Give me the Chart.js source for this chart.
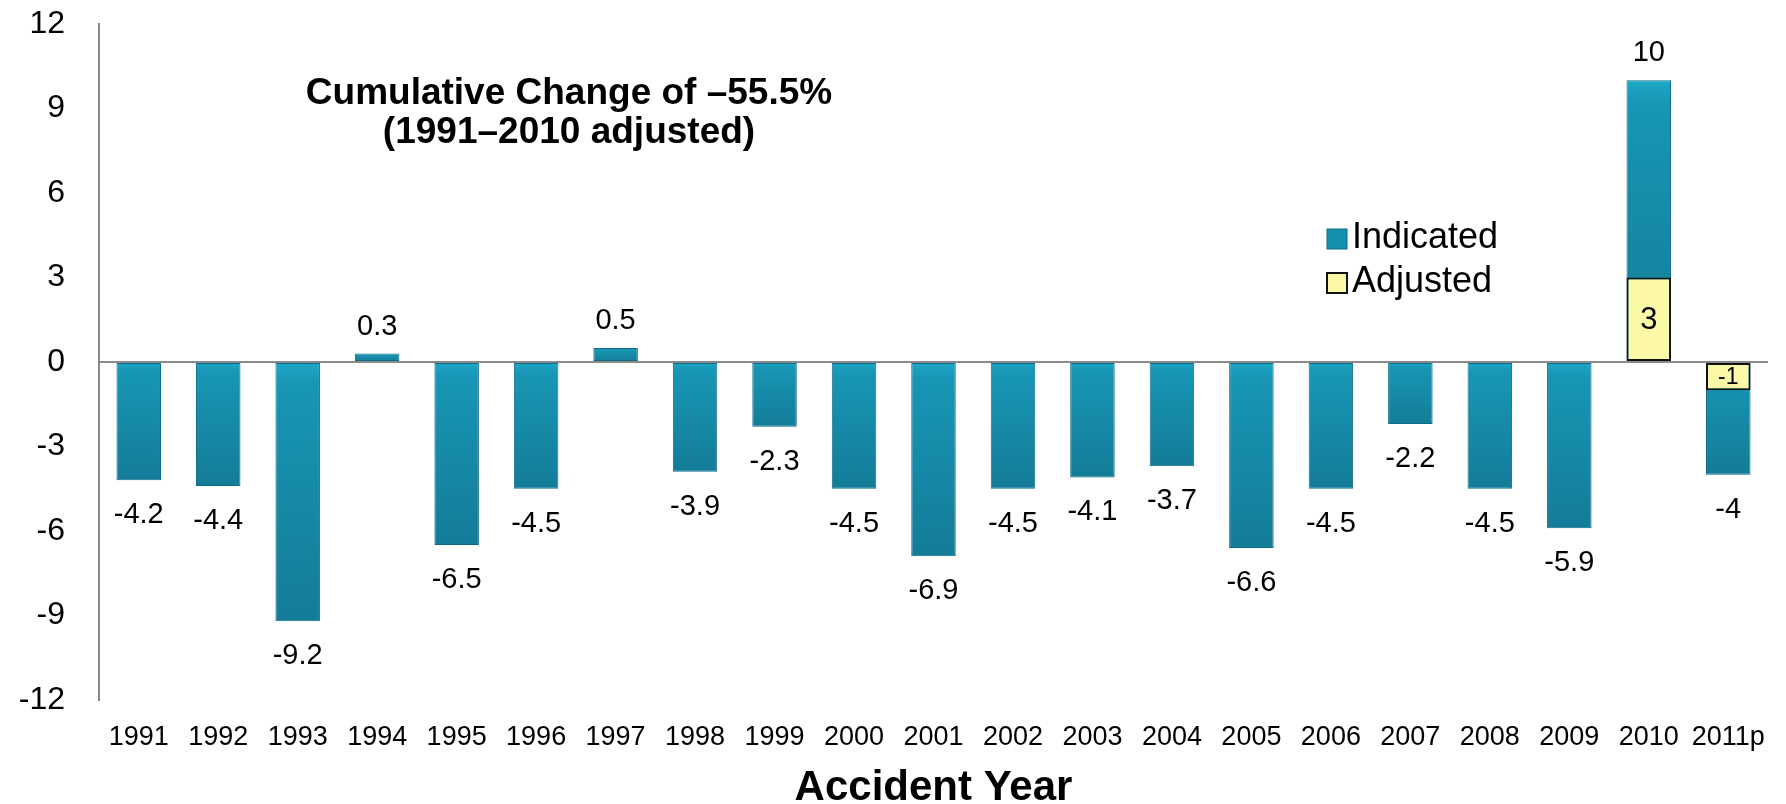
<!DOCTYPE html>
<html>
<head>
<meta charset="utf-8">
<script src="https://cdn.jsdelivr.net/npm/chart.js@4"></script>
<style>
  html, body { margin: 0; padding: 0; background: #fff; }
  #wrap { width: 1786px; height: 804px; }
</style>
</head>
<body>
<div id="wrap"><canvas id="myChart" width="1786" height="804"></canvas></div>
<script>
const years = ['1991', '1992', '1993', '1994', '1995', '1996', '1997', '1998', '1999', '2000', '2001',
    '2002', '2003', '2004', '2005', '2006', '2007', '2008', '2009', '2010', '2011p'];
const indicated = [-4.2, -4.4, -9.2, 0.3, -6.5, -4.5, 0.5, -3.9, -2.3, -4.5, -6.9,
    -4.5, -4.1, -3.7, -6.6, -4.5, -2.2, -4.5, -5.9, 10, -4];
const adjusted = [null, null, null, null, null, null, null, null, null, null, null,
    null, null, null, null, null, null, null, null, 3, -1];
const yTicks = { min: -12, max: 12, step: 3 };
const noteLines = ['Cumulative Change of \u201355.5%', '(1991\u20132010 adjusted)'];

const FONT = '"Liberation Sans", Arial, sans-serif';
const TEAL = '#1690b0';

// light at the top of each bar, darker at the bottom
function tealFill(c) {
    const y = c.chart.scales && c.chart.scales.y;
    if (!y || c.raw == null || !isFinite(y.getPixelForValue(0))) return TEAL;
    const a = y.getPixelForValue(0);
    const b = y.getPixelForValue(c.raw);
    const top = Math.min(a, b), bot = Math.max(a, b);
    if (bot - top < 2) return TEAL;
    const g = c.chart.ctx.createLinearGradient(0, top, 0, bot);
    g.addColorStop(0, '#1ea8c8');
    g.addColorStop(0.08, '#1896b5');
    g.addColorStop(1, '#137c98');
    return g;
}

// value labels, legend and the note text
const extras = {
    id: 'extras',
    afterDatasetsDraw(chart) {
        const ctx = chart.ctx;
        ctx.save();
        ctx.fillStyle = '#000';
        ctx.textAlign = 'center';
        ctx.textBaseline = 'middle';

        // indicated labels outside the bar end
        const m0 = chart.getDatasetMeta(0);
        ctx.font = '29px ' + FONT;
        m0.data.forEach((bar, i) => {
            const v = indicated[i];
            const y = v >= 0 ? bar.y - 27 : bar.y + 35;
            ctx.fillText(String(v), bar.x, y);
        });

        // adjusted labels inside the bar
        const m1 = chart.getDatasetMeta(1);
        m1.data.forEach((bar, i) => {
            const v = adjusted[i];
            if (v === null) return;
            ctx.font = (Math.abs(v) >= 2 ? '31px ' : '23px ') + FONT;
            ctx.fillText(String(v), bar.x, (bar.y + bar.base) / 2 + 1);
        });

        // note
        ctx.font = 'bold 37px ' + FONT;
        ctx.fillText(noteLines[0], 569, 94);
        ctx.fillText(noteLines[1], 569, 133);

        // legend
        const items = chart.data.datasets;
        ctx.textAlign = 'left';
        ctx.font = '36px ' + FONT;
        items.forEach((ds, i) => {
            const y = 238 + i * 44;
            ctx.fillStyle = i === 0 ? TEAL : ds.backgroundColor;
            ctx.fillRect(1327, y - 9, 20, 20);
            ctx.lineWidth = i === 0 ? 1 : 2;
            ctx.strokeStyle = ds.borderColor;
            ctx.strokeRect(1327, y - 9, 20, 20);
            ctx.fillStyle = '#000';
            ctx.fillText(ds.label, 1352, y);
        });
        ctx.restore();
    }
};

const ctx = document.getElementById('myChart').getContext('2d');
const myChart = new Chart(ctx, {
    type: 'bar',
    data: {
        labels: years,
        datasets: [
            {
                label: 'Indicated',
                data: indicated,
                backgroundColor: tealFill,
                borderColor: '#0f6c86',
                borderWidth: 1,
                order: 2
            },
            {
                label: 'Adjusted',
                data: adjusted,
                backgroundColor: '#fbf9a6',
                borderColor: '#111',
                borderWidth: 2,
                order: 1
            }
        ]
    },
    options: {
        responsive: false,
        animation: false,
        layout: { padding: { top: 24, right: 18, left: 0, bottom: 0 } },
        datasets: {
            bar: { grouped: false, categoryPercentage: 1, barPercentage: 0.56, borderSkipped: false }
        },
        plugins: {
            legend: { display: false },
            tooltip: { enabled: false }
        },
        scales: {
            x: {
                grid: { display: false },
                border: { display: false },
                ticks: { color: '#000', font: { family: FONT, size: 27 }, padding: 13, maxRotation: 0 },
                title: {
                    display: true,
                    text: 'Accident Year',
                    color: '#000',
                    font: { family: FONT, size: 42, weight: 'bold', lineHeight: 0.7 },
                    padding: { top: 0, bottom: 1 }
                },
                afterFit(scale) { scale.height = 104; }
            },
            y: {
                min: yTicks.min,
                max: yTicks.max,
                ticks: { stepSize: yTicks.step, color: '#000', font: { family: FONT, size: 32 }, padding: 34 },
                grid: {
                    drawTicks: false,
                    lineWidth: 2,
                    color: c => (c.tick && c.tick.value === 0 ? '#8a8a8a' : 'rgba(0,0,0,0)')
                },
                border: { display: true, color: '#8a8a8a', width: 2 },
                afterFit(scale) {
                    scale.width = 99;
                    scale.paddingTop = 0;
                    scale.paddingBottom = 0;
                }
            }
        }
    },
    plugins: [extras]
});
</script>
</body>
</html>
